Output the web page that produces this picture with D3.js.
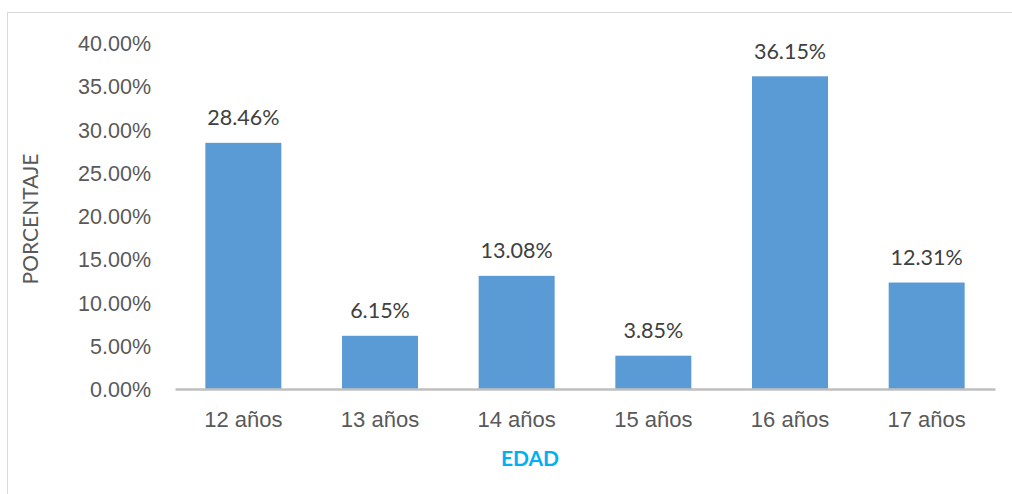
<!DOCTYPE html>
<html>
<head>
<meta charset="utf-8">
<script src="https://cdn.jsdelivr.net/npm/d3@7.9.0/dist/d3.min.js"></script>
<style>
  body { margin: 0; background: #fff; }
  svg { display: block; font-family: Lato, "Open Sans", sans-serif; }
</style>
</head>
<body>
<svg id="chart" width="1012" height="494"></svg>
<script>
const categories = ['12 años', '13 años', '14 años', '15 años', '16 años', '17 años'];
const values = [28.46, 6.15, 13.08, 3.85, 36.15, 12.31];
const yTicks = [0, 5, 10, 15, 20, 25, 30, 35, 40];

const svg = d3.select('#chart');
const margin = { top: 43, right: 17, bottom: 105, left: 175 };
const width = 1012 - margin.left - margin.right;
const height = 494 - margin.top - margin.bottom;

// chart frame
svg.append('rect')
  .attr('x', 7.5).attr('y', 12.5)
  .attr('width', 1012).attr('height', 494)
  .attr('fill', 'none').attr('stroke', '#d9d9d9').attr('stroke-width', 1);

const g = svg.append('g').attr('transform', `translate(${margin.left},${margin.top})`);

const x = d3.scaleBand().domain(categories).range([0, width]).paddingInner(0.444).paddingOuter(0.222);
const y = d3.scaleLinear().domain([0, 40]).range([height, 0]);

// y axis labels
const yAxis = g.append('g').call(d3.axisLeft(y).tickValues(yTicks).tickSize(0).tickPadding(24)
  .tickFormat(d => d.toFixed(2) + '%'));
yAxis.select('.domain').remove();
yAxis.selectAll('text').attr('fill', '#595959').style('font-size', '21.5px').attr('dy', '0.35em');

// bars
g.selectAll('.bar')
  .data(values)
  .join('rect')
  .attr('class', 'bar')
  .attr('x', (d, i) => x(categories[i]))
  .attr('y', d => y(d))
  .attr('width', x.bandwidth())
  .attr('height', d => height - y(d))
  .attr('fill', '#5b9bd5');

// value labels
g.selectAll('.lbl')
  .data(values)
  .join('text')
  .attr('class', 'lbl')
  .attr('x', (d, i) => x(categories[i]) + x.bandwidth() / 2)
  .attr('y', d => y(d) - 25)
  .attr('dy', '0.35em')
  .attr('text-anchor', 'middle')
  .attr('fill', '#404040')
  .style('font-size', '21.5px')
  .text(d => d.toFixed(2) + '%');

// x axis
const xAxis = g.append('g').attr('transform', `translate(0,${height})`)
  .call(d3.axisBottom(x).tickSize(0).tickPadding(22));
xAxis.select('.domain').attr('stroke', '#bfbfbf').attr('stroke-width', 2.5);
xAxis.selectAll('text').attr('fill', '#595959').style('font-size', '22px');

// axis titles
svg.append('text')
  .attr('x', 530).attr('y', 459)
  .attr('dy', '0.35em')
  .attr('text-anchor', 'middle')
  .attr('fill', '#00b0f0')
  .style('font-size', '21px').style('font-weight', 'bold')
  .text('EDAD');

svg.append('text')
  .attr('transform', 'translate(31,219) rotate(-90)')
  .attr('dy', '0.35em')
  .attr('text-anchor', 'middle')
  .attr('fill', '#595959')
  .style('font-size', '21px')
  .text('PORCENTAJE');
</script>
</body>
</html>
